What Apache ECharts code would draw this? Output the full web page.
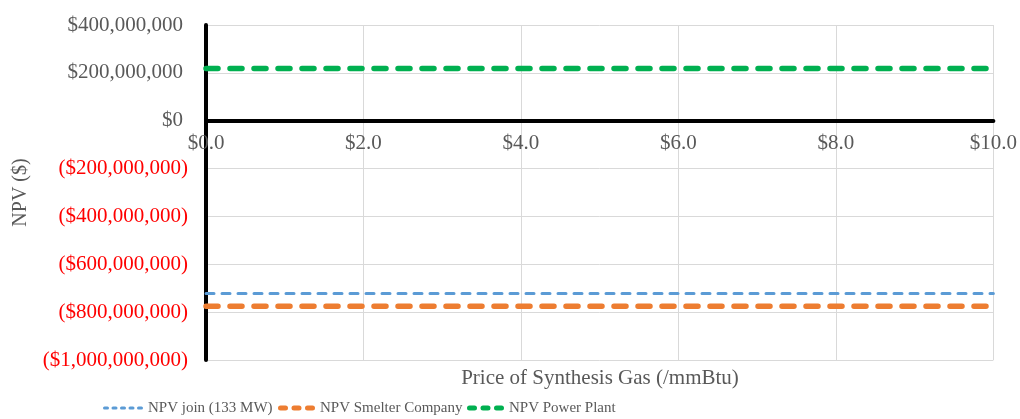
<!DOCTYPE html>
<html>
<head>
<meta charset="utf-8">
<style>
  html, body { margin: 0; padding: 0; background: #ffffff; }
  #chart { width: 1020px; height: 419px; }
</style>
<script src="https://cdn.jsdelivr.net/npm/echarts@6/dist/echarts.min.js"></script>
</head>
<body>
<div id="chart"></div>
<script>
// Gas price (USD per mmBtu) along the horizontal axis
const gasPrices = [0, 1, 2, 3, 4, 5, 6, 7, 8, 9, 10];

// Net present value of each party at each gas price (USD)
const npvJoin = [-722000000, -722000000, -722000000, -722000000, -722000000, -722000000,
                 -722000000, -722000000, -722000000, -722000000, -722000000];
const npvSmelter = [-775000000, -775000000, -775000000, -775000000, -775000000, -775000000,
                    -775000000, -775000000, -775000000, -775000000, -775000000];
const npvPowerPlant = [218000000, 218000000, 218000000, 218000000, 218000000, 218000000,
                       218000000, 218000000, 218000000, 218000000, 218000000];

const seriesNames = ['NPV join (133 MW)', 'NPV Smelter Company', 'NPV Power Plant'];

const FONT = '"Liberation Serif", "Times New Roman", serif';
const GREY = '#595959';

const Y_MIN = -1000000000;
const Y_MAX = 400000000;
const GRID_TOP = 25;
const GRID_BOTTOM = 59;
const CHART_H = 419;

function pair(xs, ys) {
  return xs.map((x, i) => [x, ys[i]]);
}

function money(v) {
  const s = Math.abs(v).toLocaleString('en-US');
  return v < 0 ? '{neg|($' + s + ')}' : '{pos|$' + s + '}';
}

// Dashed legend swatch: n rounded dashes of length d separated by gap g, thickness h
function dashIcon(n, d, g, h) {
  const r = h / 2;
  let p = '';
  for (let i = 0; i < n; i++) {
    const x0 = i * (d + g);
    const x1 = x0 + d;
    p += 'M' + (x0 + r) + ',0H' + (x1 - r) +
         'A' + r + ',' + r + ' 0 0 1 ' + (x1 - r) + ',' + h +
         'H' + (x0 + r) +
         'A' + r + ',' + r + ' 0 0 1 ' + (x0 + r) + ',0Z';
  }
  return 'path://' + p;
}

// Distance from the bottom of the plot up to the zero line, so the x axis sits at $0
const plotH = CHART_H - GRID_TOP - GRID_BOTTOM;
const zeroOffset = plotH * (0 - Y_MIN) / (Y_MAX - Y_MIN);

const chart = echarts.init(document.getElementById('chart'), null, { renderer: 'canvas' });

function legendAt(left, name, icon, w, h) {
  return {
    orient: 'horizontal',
    left: left,
    top: 399,
    padding: 0,
    itemWidth: w,
    itemHeight: h,
    icon: icon,
    data: [name],
    textStyle: { fontFamily: FONT, fontSize: 15, color: GREY, lineHeight: 18 }
  };
}

chart.setOption({
  animation: false,
  backgroundColor: '#ffffff',
  textStyle: { fontFamily: FONT },
  grid: { left: 206, right: 25, top: GRID_TOP, bottom: GRID_BOTTOM, containLabel: false },
  legend: [
    legendAt(103, seriesNames[0], dashIcon(5, 6, 2.5, 3), 40, 3.5),
    legendAt(278, seriesNames[1], dashIcon(3, 10, 3.5, 5), 37, 5.5),
    legendAt(467, seriesNames[2], dashIcon(3, 10, 3.5, 5), 37, 5.5)
  ],
  xAxis: {
    type: 'value',
    min: 0,
    max: 10,
    interval: 2,
    offset: -zeroOffset,
    axisLine: { onZero: false, lineStyle: { color: '#000000', width: 4 } },
    axisTick: { show: false },
    axisLabel: {
      margin: 12,
      fontFamily: FONT,
      fontSize: 21,
      color: GREY,
      formatter: v => '$' + v.toFixed(1)
    },
    splitLine: { show: true, lineStyle: { color: '#d9d9d9', width: 1 } }
  },
  yAxis: {
    type: 'value',
    min: Y_MIN,
    max: Y_MAX,
    interval: 200000000,
    name: 'NPV ($)',
    nameLocation: 'middle',
    nameGap: 175,
    nameRotate: 90,
    nameTextStyle: { fontFamily: FONT, fontSize: 20, color: GREY },
    axisLine: { show: true, onZero: false, lineStyle: { color: '#000000', width: 4 } },
    axisTick: { show: false },
    axisLabel: {
      margin: 18,
      fontFamily: FONT,
      fontSize: 21,
      formatter: money,
      rich: {
        neg: { fontFamily: FONT, fontSize: 21, color: '#ff0000' },
        pos: { fontFamily: FONT, fontSize: 21, color: GREY, padding: [0, 5, 0, 0] }
      }
    },
    splitLine: { show: true, lineStyle: { color: '#d9d9d9', width: 1 } }
  },
  graphic: [
    {
      type: 'text',
      x: 600,
      y: 378,
      style: {
        text: 'Price of Synthesis Gas (/mmBtu)',
        fontFamily: FONT,
        fontSize: 21,
        fill: GREY,
        align: 'center',
        verticalAlign: 'middle'
      }
    }
  ],
  series: [
    {
      name: seriesNames[0],
      type: 'line',
      data: pair(gasPrices, npvJoin),
      symbol: 'none',
      lineStyle: { color: '#5b9bd5', width: 3, type: [8, 8], cap: 'round' },
      itemStyle: { color: '#5b9bd5' },
      z: 3
    },
    {
      name: seriesNames[1],
      type: 'line',
      data: pair(gasPrices, npvSmelter),
      symbol: 'none',
      lineStyle: { color: '#ed7d31', width: 5.5, type: [12, 12], cap: 'round' },
      itemStyle: { color: '#ed7d31' },
      z: 3
    },
    {
      name: seriesNames[2],
      type: 'line',
      data: pair(gasPrices, npvPowerPlant),
      symbol: 'none',
      lineStyle: { color: '#00b050', width: 5.5, type: [12, 12], cap: 'round' },
      itemStyle: { color: '#00b050' },
      z: 3
    }
  ]
});
</script>
</body>
</html>
